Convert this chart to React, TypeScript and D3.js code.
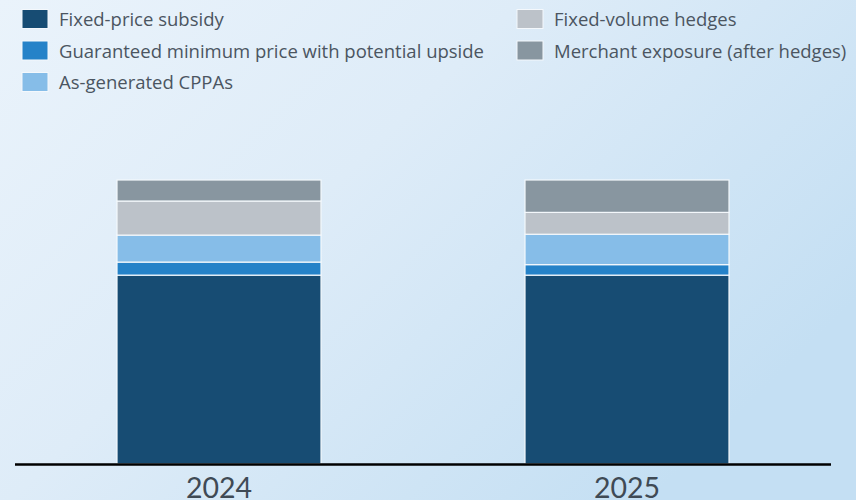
import React, { useEffect, useRef } from 'react';
import * as d3 from 'd3';

const years = ['2024', '2025'];
const seriesNames = [
  'Fixed-price subsidy',
  'Guaranteed minimum price with potential upside',
  'As-generated CPPAs',
  'Fixed-volume hedges',
  'Merchant exposure (after hedges)',
];
const seriesColors = ['#174c73', '#2582c8', '#86bde8', '#bcc2c9', '#8896a0'];
// share of portfolio, %
const values2024 = [66.5, 4.6, 9.5, 12.0, 7.4];
const values2025 = [66.5, 3.7, 10.7, 7.7, 11.4];

const App = () => {
  const ref = useRef<SVGSVGElement | null>(null);

  useEffect(() => {
    const width = 856;
    const height = 500;
    const svg = d3.select(ref.current);
    svg.selectAll('*').remove();

    const defs = svg.append('defs');
    const grad = defs.append('linearGradient')
      .attr('id', 'bg')
      .attr('x1', '0%').attr('y1', '0%')
      .attr('x2', '100%').attr('y2', '60%');
    grad.append('stop').attr('offset', '0%').attr('stop-color', '#eaf3fb');
    grad.append('stop').attr('offset', '45%').attr('stop-color', '#deecf8');
    grad.append('stop').attr('offset', '100%').attr('stop-color', '#c4dff3');

    svg.append('rect')
      .attr('width', width)
      .attr('height', height)
      .attr('fill', 'url(#bg)');

    const rows = years.map((year, i) => {
      const vals = i === 0 ? values2024 : values2025;
      const row: any = { year };
      seriesNames.forEach((s, j) => { row[s] = vals[j]; });
      return row;
    });

    const stack = d3.stack().keys(seriesNames);
    const stacked = stack(rows);

    const x = d3.scaleBand()
      .domain(years)
      .range([15, 831])
      .paddingInner(0.5)
      .paddingOuter(0.25);

    const y = d3.scaleLinear()
      .domain([0, 100])
      .range([464, 180]);

    svg.append('g')
      .selectAll('g')
      .data(stacked)
      .join('g')
      .attr('fill', (_d, i) => seriesColors[i])
      .selectAll('rect')
      .data(d => d)
      .join('rect')
      .attr('x', d => x(d.data.year as any) as number)
      .attr('y', d => y(d[1]))
      .attr('height', d => y(d[0]) - y(d[1]))
      .attr('width', x.bandwidth())
      .attr('stroke', '#f4f8fc')
      .attr('stroke-width', 1.2);

    const axis = svg.append('g')
      .attr('transform', 'translate(0,464.5)')
      .call(d3.axisBottom(x).tickSize(0).tickPadding(13));
    axis.select('.domain')
      .attr('d', 'M15,0H831')
      .attr('stroke', '#000')
      .attr('stroke-width', 2.5);
    axis.selectAll('text')
      .attr('font-family', 'Lato, sans-serif')
      .attr('font-size', 28.5)
      .attr('fill', '#3f4a55');

    const legend = svg.append('g')
      .attr('font-family', '"Open Sans", sans-serif')
      .attr('font-size', 18.5)
      .attr('fill', '#4b5561');

    const legendPos = [
      { x: 22, y: 9.5 },
      { x: 22, y: 41 },
      { x: 22, y: 72.5 },
      { x: 517, y: 9.5 },
      { x: 517, y: 41 },
    ];

    seriesNames.forEach((name, i) => {
      const p = legendPos[i];
      const g = legend.append('g').attr('transform', `translate(${p.x},${p.y})`);
      g.append('rect')
        .attr('width', 26)
        .attr('height', 19)
        .attr('fill', seriesColors[i])
        .attr('stroke', '#f4f8fc')
        .attr('stroke-width', 1);
      g.append('text')
        .attr('x', 37)
        .attr('y', 16.5)
        .text(name);
    });
  }, []);

  return (
    <svg
      ref={ref}
      width={856}
      height={500}
      style={{ position: 'absolute', left: 0, top: 0, display: 'block' }}
    />
  );
};

export default App;
